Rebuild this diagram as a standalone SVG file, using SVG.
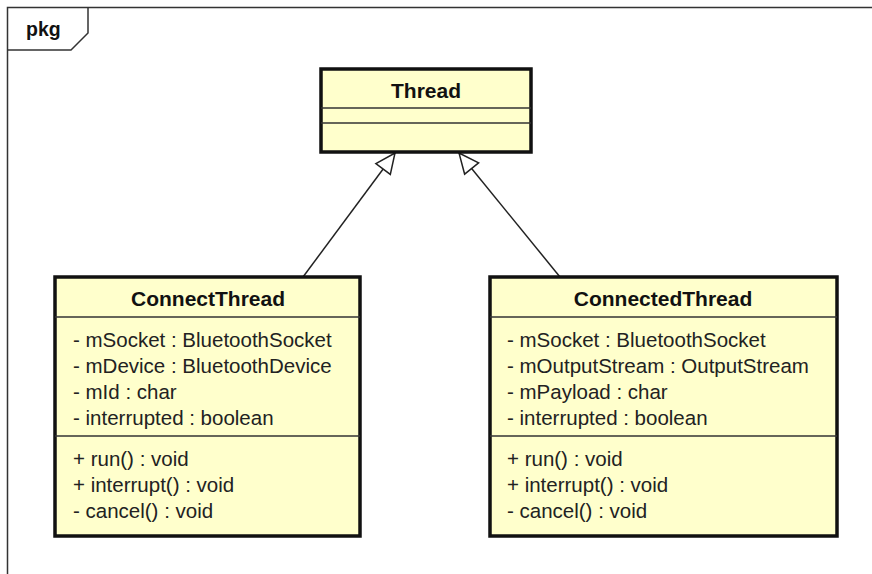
<svg xmlns="http://www.w3.org/2000/svg" width="872" height="574" viewBox="0 0 872 574">
  <style>
    .frame { fill: none; stroke: #333; stroke-width: 1.5; }
    .box { fill: #ffffcc; stroke: #111; stroke-width: 3.5; }
    .div { stroke: #333; stroke-width: 1.5; }
    .edge { fill: none; stroke: #222; stroke-width: 1.5; }
    .title { font-family: "Liberation Sans", Arial, sans-serif; font-weight: bold; font-size: 21px; fill: #111; text-anchor: middle; }
    .member { font-family: "Liberation Sans", Arial, sans-serif; font-size: 20.5px; fill: #222; }
    .pkg { font-family: "Liberation Sans", Arial, sans-serif; font-weight: bold; font-size: 19.5px; fill: #111; }
  </style>
  <defs>
    <marker id="generalization" viewBox="-2 -11 24 22" markerWidth="24" markerHeight="22" refX="20" refY="0" orient="auto" markerUnits="userSpaceOnUse">
      <path d="M0,-9 L20,0 L0,9 Z" fill="#ffffff" stroke="#222" stroke-width="1.5" stroke-linejoin="miter"/>
    </marker>
  </defs>

  <rect width="872" height="574" fill="#ffffff"/>

  <!-- package frame -->
  <g id="pkg-frame">
    <path class="frame" d="M7.5,574 L7.5,7.5 L872,7.5"/>
    <path class="frame" d="M88,7.5 L88,33 L71,50 L7.5,50"/>
    <text class="pkg" x="26" y="36">pkg</text>
  </g>

  <!-- inheritance connectors -->
  <g id="connectors">
    <line class="edge" x1="303" y1="277" x2="395" y2="153" marker-end="url(#generalization)"/>
    <line class="edge" x1="560" y1="277" x2="459" y2="153" marker-end="url(#generalization)"/>
  </g>

  <g id="Thread">
    <rect class="box" x="321" y="69" width="210" height="83"/>
    <line class="div" x1="321" y1="108" x2="531" y2="108"/>
    <line class="div" x1="321" y1="123" x2="531" y2="123"/>
    <text class="title" x="426" y="98">Thread</text>
  </g>

  <g id="ConnectThread">
    <rect class="box" x="55" y="277" width="305" height="259"/>
    <line class="div" x1="55" y1="317" x2="360" y2="317"/>
    <line class="div" x1="55" y1="436" x2="360" y2="436"/>
    <text class="title" x="208" y="306">ConnectThread</text>
    <text class="member" x="73" y="347">- mSocket : BluetoothSocket</text>
    <text class="member" x="73" y="373">- mDevice : BluetoothDevice</text>
    <text class="member" x="73" y="399">- mId : char</text>
    <text class="member" x="73" y="425">- interrupted : boolean</text>
    <text class="member" x="73" y="466">+ run() : void</text>
    <text class="member" x="73" y="492">+ interrupt() : void</text>
    <text class="member" x="73" y="518">- cancel() : void</text>
  </g>

  <g id="ConnectedThread">
    <rect class="box" x="490" y="277" width="347" height="259"/>
    <line class="div" x1="490" y1="317" x2="837" y2="317"/>
    <line class="div" x1="490" y1="436" x2="837" y2="436"/>
    <text class="title" x="663" y="306">ConnectedThread</text>
    <text class="member" x="507" y="347">- mSocket : BluetoothSocket</text>
    <text class="member" x="507" y="373">- mOutputStream : OutputStream</text>
    <text class="member" x="507" y="399">- mPayload : char</text>
    <text class="member" x="507" y="425">- interrupted : boolean</text>
    <text class="member" x="507" y="466">+ run() : void</text>
    <text class="member" x="507" y="492">+ interrupt() : void</text>
    <text class="member" x="507" y="518">- cancel() : void</text>
  </g>
</svg>
